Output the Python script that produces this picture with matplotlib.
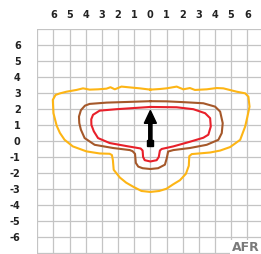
import numpy as np
from matplotlib import pyplot as plt

# contour outlines (x, y) in grid units
yellow_x = [0, 0.6, 1.0, 1.63, 2.04, 2.45, 2.76, 3.49, 4.11, 4.52, 5.35, 5.87, 6.07, 6.14, 6.01, 5.87, 5.56,
            4.94, 4.32, 3.7, 2.56, 2.41, 2.38, 2.2, 1.83, 1.42, 1.0, 0.55, 0,
            -0.55, -1.07, -1.5, -1.89, -2.27, -2.32, -2.38, -2.52, -3.14, -3.96, -4.8, -5.31, -5.6, -5.8, -6.0, -6.04,
            -5.87, -5.62, -5.2, -4.58, -4.17, -3.76, -3.24, -2.72, -2.47, -2.2, -1.79, -1.38, -0.65, 0]
yellow_y = [3.2, 3.24, 3.28, 3.39, 3.22, 3.3, 3.18, 3.22, 3.3, 3.28, 3.07, 2.97, 2.76, 2.14, 1.52, 0.9, 0.07,
            -0.38, -0.6, -0.72, -0.82, -0.95, -1.55, -2.05, -2.45, -2.7, -2.98, -3.12, -3.18,
            -3.12, -2.85, -2.6, -2.28, -1.8, -1.2, -0.88, -0.8, -0.78, -0.65, -0.34, 0.07, 0.5, 0.95, 1.73, 2.56,
            2.87, 2.96, 3.07, 3.18, 3.28, 3.2, 3.22, 3.26, 3.35, 3.22, 3.39, 3.35, 3.28, 3.2]

brown_x = [0, 1.0, 2.04, 3.28, 4.01, 4.32, 4.48, 4.42, 4.21, 3.49, 2.45, 1.42, 1.1, 1.02, 0.9, 0.48, 0,
           -0.48, -0.75, -0.9, -0.95, -1.1, -1.27, -2.31, -3.45, -4.07, -4.3, -4.4, -4.42, -4.3, -4.05, -3.76,
           -2.72, -1.48, 0]
brown_y = [2.48, 2.47, 2.42, 2.35, 2.14, 1.83, 1.11, 0.49, 0.07, -0.24, -0.44, -0.57, -0.66, -1.06, -1.48, -1.7, -1.75,
           -1.7, -1.6, -1.37, -0.8, -0.64, -0.57, -0.44, -0.24, 0.18, 0.7, 1.11, 1.52, 1.92, 2.2, 2.31,
           2.39, 2.43, 2.48]

red_x = [0, 1.63, 2.66, 3.39, 3.7, 3.74, 3.59, 3.28, 2.45, 1.42, 0.7, 0.59, 0.52, 0.39, 0,
         -0.35, -0.45, -0.48, -0.6, -1.48, -2.52, -3.24, -3.5, -3.65, -3.66, -3.55, -3.14, -2.1, 0]
red_y = [2.12, 2.1, 1.98, 1.73, 1.42, 0.9, 0.39, 0.2, -0.05, -0.34, -0.5, -0.6, -1.0, -1.2, -1.28,
         -1.2, -1.0, -0.6, -0.47, -0.32, -0.13, 0.18, 0.6, 1.0, 1.35, 1.63, 1.89, 1.98, 2.12]

ticks = list(range(-6, 7))
tick_labels_x = [str(abs(t)) for t in ticks]
tick_labels_y = [str(t) for t in ticks]

fig = plt.figure(figsize=(2.61, 2.54), dpi=100)
ax = fig.add_axes([37.3 / 261, 0, 1 - 37.3 / 261, (254 - 28.7) / 254])
ax.set_xlim(-7, 6.85)
ax.set_ylim(-7.05, 7)

for v in range(-7, 8):
    ax.axvline(v, color='#c4c4c4', lw=0.9, zorder=1)
    ax.axhline(v, color='#c4c4c4', lw=0.9, zorder=1)

ax.plot(yellow_x, yellow_y, color='#fdb515', lw=1.5, zorder=3)
ax.plot(brown_x, brown_y, color='#a5582a', lw=1.5, zorder=3)
ax.plot(red_x, red_y, color='#e8202a', lw=1.5, zorder=3)

ax.arrow(0, -0.1, 0, 1.2, width=0.2, head_width=0.75, head_length=0.8,
         color='black', length_includes_head=False, zorder=4)
ax.plot([0], [-0.1], marker='s', ms=4.5, color='black', zorder=5)

for s in ax.spines.values():
    s.set_visible(False)
ax.xaxis.tick_top()
ax.set_xticks(ticks)
ax.set_xticklabels(tick_labels_x, fontsize=7, fontweight='bold', color='#222222')
ax.set_yticks(ticks)
ax.set_yticklabels(tick_labels_y, fontsize=7, fontweight='bold', color='#222222')
ax.tick_params(length=0)
ax.tick_params(axis='y', pad=12)
ax.tick_params(axis='x', pad=6)

ax.text(6.75, -6.65, 'AFR', fontsize=9, fontweight='bold', color='#7a7a7a', ha='right', va='center',
        bbox=dict(facecolor='white', edgecolor='none', pad=1), zorder=6)

fig.savefig('out.png', dpi=100)
